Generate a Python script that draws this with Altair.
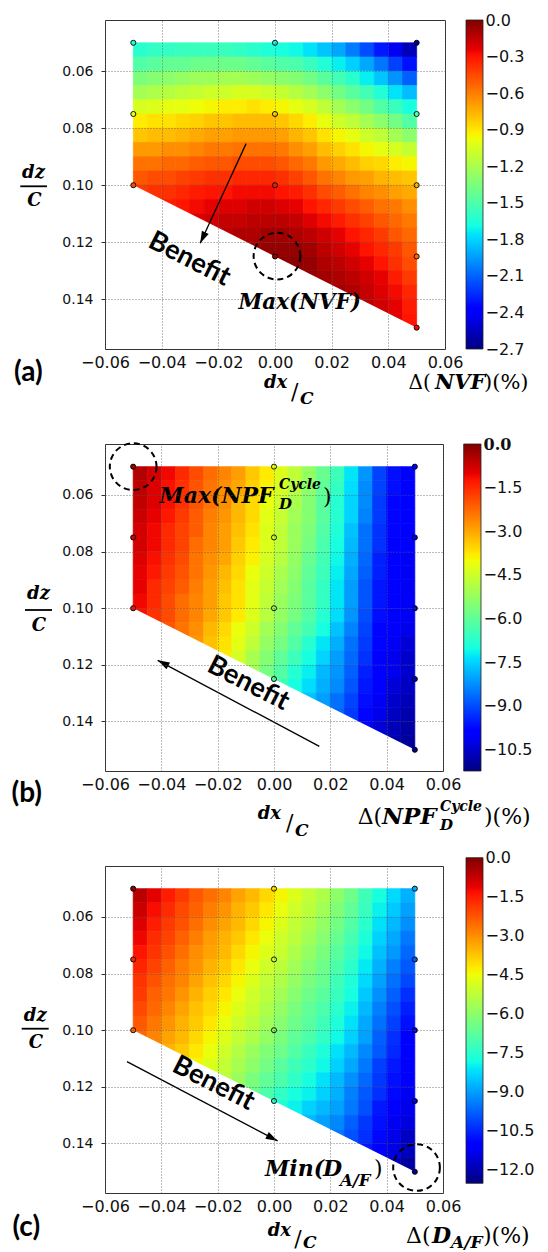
import altair as alt
import pandas as pd

# ---------------- grid of read-off cell values (cell centres, 0.005 spacing) -------------
# rows run from dz/C = 0.05 (top) to 0.15 (bottom); each row is right-aligned:
# lower rows start further right because the sampled region is a trapezoid.
X_START, Y_START, STEP, NCOL = -0.05, 0.05, 0.005, 20

# (a)  Delta(NVF) (%)
A_ROWS = [
    [-1.62, -1.59, -1.59, -1.57, -1.57, -1.57, -1.57, -1.59, -1.62, -1.65, -1.67, -1.70, -1.76, -1.84, -1.92, -2.03, -2.16, -2.30, -2.43, -2.57],
    [-1.49, -1.46, -1.43, -1.43, -1.40, -1.40, -1.40, -1.40, -1.43, -1.46, -1.49, -1.51, -1.57, -1.65, -1.73, -1.81, -1.92, -2.05, -2.19, -2.32],
    [-1.35, -1.32, -1.30, -1.27, -1.24, -1.24, -1.22, -1.22, -1.24, -1.27, -1.30, -1.32, -1.38, -1.46, -1.54, -1.62, -1.73, -1.84, -1.97, -2.11],
    [-1.22, -1.19, -1.16, -1.13, -1.11, -1.08, -1.08, -1.05, -1.05, -1.08, -1.11, -1.16, -1.22, -1.30, -1.38, -1.46, -1.54, -1.65, -1.76, -1.86],
    [-1.05, -1.03, -1.00, -1.00, -0.97, -0.95, -0.92, -0.92, -0.89, -0.92, -0.95, -1.00, -1.05, -1.13, -1.22, -1.30, -1.38, -1.49, -1.57, -1.67],
    [-0.92, -0.89, -0.89, -0.86, -0.84, -0.81, -0.81, -0.78, -0.78, -0.78, -0.81, -0.86, -0.92, -1.00, -1.08, -1.13, -1.22, -1.30, -1.38, -1.49],
    [-0.81, -0.78, -0.78, -0.76, -0.73, -0.70, -0.70, -0.68, -0.68, -0.68, -0.70, -0.76, -0.81, -0.89, -0.95, -1.00, -1.08, -1.13, -1.22, -1.30],
    [-0.68, -0.68, -0.65, -0.65, -0.62, -0.59, -0.59, -0.57, -0.57, -0.57, -0.59, -0.65, -0.70, -0.78, -0.84, -0.89, -0.95, -1.00, -1.05, -1.11],
    [-0.57, -0.57, -0.54, -0.54, -0.51, -0.49, -0.49, -0.46, -0.46, -0.46, -0.49, -0.54, -0.59, -0.68, -0.73, -0.78, -0.84, -0.86, -0.92, -0.95],
    [-0.49, -0.46, -0.46, -0.43, -0.41, -0.38, -0.38, -0.35, -0.35, -0.35, -0.38, -0.43, -0.49, -0.57, -0.62, -0.68, -0.70, -0.76, -0.78, -0.81],
    [-0.41, -0.38, -0.38, -0.35, -0.32, -0.30, -0.30, -0.27, -0.27, -0.27, -0.30, -0.32, -0.38, -0.46, -0.51, -0.57, -0.62, -0.65, -0.70, -0.73],
    [-0.32, -0.30, -0.27, -0.24, -0.22, -0.22, -0.19, -0.19, -0.22, -0.24, -0.30, -0.35, -0.41, -0.46, -0.51, -0.57, -0.59, -0.65],
    [-0.22, -0.19, -0.16, -0.16, -0.14, -0.14, -0.14, -0.16, -0.22, -0.27, -0.32, -0.38, -0.43, -0.49, -0.54, -0.59],
    [-0.14, -0.11, -0.11, -0.08, -0.08, -0.11, -0.14, -0.19, -0.24, -0.30, -0.35, -0.41, -0.49, -0.54],
    [-0.08, -0.05, -0.05, -0.05, -0.08, -0.14, -0.19, -0.24, -0.30, -0.35, -0.41, -0.49],
    [-0.03, -0.03, -0.05, -0.11, -0.14, -0.19, -0.24, -0.30, -0.38, -0.46],
    [-0.05, -0.08, -0.11, -0.14, -0.19, -0.24, -0.32, -0.41],
    [-0.08, -0.11, -0.16, -0.22, -0.27, -0.35],
    [-0.14, -0.19, -0.24, -0.32],
    [-0.22, -0.30],
]

# (b)  Delta(NPF_D^Cycle) (%)
B_ROWS = [
    [-0.5, -0.8, -1.1, -1.5, -1.9, -2.3, -2.6, -2.9, -3.4, -3.8, -4.3, -4.7, -5.3, -5.9, -6.5, -7.3, -8.2, -9.1, -9.7, -10.0],
    [-0.6, -0.9, -1.2, -1.6, -2.0, -2.4, -2.7, -3.0, -3.5, -3.9, -4.4, -4.8, -5.4, -6.0, -6.6, -7.4, -8.3, -9.1, -9.7, -10.0],
    [-0.6, -0.9, -1.2, -1.6, -2.0, -2.4, -2.7, -3.2, -3.6, -4.1, -4.5, -5.0, -5.5, -6.1, -6.8, -7.5, -8.3, -9.2, -9.8, -10.0],
    [-0.7, -1.0, -1.3, -1.7, -2.1, -2.5, -2.8, -3.2, -3.6, -4.2, -4.6, -5.1, -5.5, -6.1, -6.8, -7.5, -8.4, -9.2, -9.8, -10.0],
    [-0.8, -1.1, -1.5, -1.8, -2.1, -2.6, -2.9, -3.3, -3.7, -4.3, -4.7, -5.2, -5.6, -6.2, -6.9, -7.7, -8.6, -9.3, -9.8, -10.0],
    [-0.8, -1.1, -1.5, -1.8, -2.3, -2.6, -2.9, -3.4, -3.8, -4.3, -4.7, -5.2, -5.7, -6.3, -7.0, -7.8, -8.6, -9.3, -9.9, -10.0],
    [-0.9, -1.2, -1.6, -1.9, -2.4, -2.7, -3.0, -3.5, -3.9, -4.4, -4.8, -5.3, -5.9, -6.4, -7.1, -7.9, -8.7, -9.5, -9.9, -10.1],
    [-1.0, -1.3, -1.7, -2.0, -2.4, -2.8, -3.2, -3.6, -4.1, -4.5, -5.0, -5.4, -6.0, -6.5, -7.2, -8.0, -8.8, -9.5, -9.9, -10.1],
    [-1.0, -1.5, -1.8, -2.1, -2.5, -2.9, -3.3, -3.7, -4.2, -4.6, -5.1, -5.5, -6.1, -6.6, -7.3, -8.1, -8.9, -9.6, -10.0, -10.1],
    [-1.1, -1.5, -1.9, -2.3, -2.6, -2.9, -3.4, -3.7, -4.2, -4.7, -5.2, -5.6, -6.1, -6.6, -7.3, -8.1, -8.9, -9.6, -10.0, -10.1],
    [-1.2, -1.6, -1.9, -2.3, -2.6, -3.0, -3.4, -3.8, -4.3, -4.8, -5.3, -5.7, -6.2, -6.8, -7.4, -8.2, -9.0, -9.7, -10.0, -10.1],
    [-2.0, -2.4, -2.7, -3.2, -3.6, -4.1, -4.5, -5.1, -5.5, -6.0, -6.4, -7.0, -7.7, -8.4, -9.1, -9.8, -10.0, -10.2],
    [-2.8, -3.3, -3.7, -4.2, -4.7, -5.3, -5.7, -6.2, -6.8, -7.3, -7.9, -8.6, -9.2, -9.8, -10.1, -10.4],
    [-3.8, -4.4, -5.0, -5.5, -6.0, -6.5, -7.0, -7.5, -8.1, -8.7, -9.3, -9.9, -10.2, -10.5],
    [-5.1, -5.7, -6.2, -6.8, -7.2, -7.8, -8.2, -8.8, -9.5, -9.9, -10.2, -10.5],
    [-6.4, -7.0, -7.4, -7.9, -8.3, -8.9, -9.6, -10.0, -10.4, -10.6],
    [-7.7, -8.1, -8.6, -9.1, -9.7, -10.1, -10.5, -10.7],
    [-8.7, -9.2, -9.8, -10.2, -10.6, -10.8],
    [-9.9, -10.4, -10.7, -10.9],
    [-10.8, -11.0],
]

# (c)  Delta(D_A/F) (%)
C_ROWS = [
    [-0.6, -1.1, -1.5, -1.9, -2.3, -2.6, -2.9, -3.3, -3.6, -4.0, -4.4, -4.8, -5.2, -5.5, -6.0, -6.5, -7.2, -7.8, -8.3, -8.8],
    [-0.8, -1.3, -1.7, -2.1, -2.4, -2.8, -3.1, -3.5, -3.8, -4.2, -4.6, -5.0, -5.3, -5.7, -6.2, -6.7, -7.3, -8.0, -8.5, -9.0],
    [-1.0, -1.5, -1.9, -2.2, -2.6, -3.0, -3.3, -3.6, -4.0, -4.4, -4.8, -5.2, -5.5, -5.9, -6.4, -6.9, -7.5, -8.2, -8.7, -9.2],
    [-1.2, -1.7, -2.0, -2.4, -2.8, -3.2, -3.5, -3.8, -4.2, -4.6, -5.0, -5.3, -5.7, -6.1, -6.6, -7.1, -7.7, -8.4, -8.9, -9.5],
    [-1.4, -1.8, -2.2, -2.6, -3.0, -3.3, -3.6, -4.0, -4.4, -4.8, -5.1, -5.5, -5.9, -6.3, -6.8, -7.3, -7.9, -8.6, -9.1, -9.7],
    [-1.6, -2.0, -2.4, -2.8, -3.1, -3.5, -3.8, -4.2, -4.6, -5.0, -5.3, -5.7, -6.1, -6.5, -7.0, -7.5, -8.1, -8.8, -9.4, -9.9],
    [-1.8, -2.2, -2.6, -2.9, -3.3, -3.7, -4.0, -4.4, -4.8, -5.2, -5.5, -5.9, -6.3, -6.6, -7.2, -7.7, -8.3, -9.0, -9.6, -10.1],
    [-1.9, -2.4, -2.7, -3.1, -3.5, -3.9, -4.2, -4.6, -5.0, -5.3, -5.7, -6.1, -6.5, -6.8, -7.3, -7.8, -8.5, -9.2, -9.8, -10.4],
    [-2.1, -2.5, -2.9, -3.3, -3.7, -4.0, -4.4, -4.8, -5.1, -5.5, -5.9, -6.3, -6.7, -7.0, -7.5, -8.0, -8.7, -9.4, -10.0, -10.6],
    [-2.3, -2.7, -3.1, -3.5, -3.8, -4.2, -4.6, -5.0, -5.3, -5.7, -6.1, -6.5, -6.8, -7.2, -7.7, -8.2, -8.9, -9.6, -10.2, -10.8],
    [-2.5, -2.9, -3.3, -3.6, -4.0, -4.4, -4.8, -5.2, -5.5, -5.9, -6.3, -6.7, -7.0, -7.4, -7.9, -8.4, -9.0, -9.8, -10.4, -11.0],
    [-3.5, -3.8, -4.2, -4.6, -5.0, -5.4, -5.8, -6.2, -6.5, -6.9, -7.3, -7.7, -8.2, -8.7, -9.3, -9.9, -10.5, -11.1],
    [-4.4, -4.8, -5.2, -5.6, -6.0, -6.4, -6.8, -7.2, -7.5, -7.9, -8.4, -8.9, -9.5, -10.2, -10.7, -11.2],
    [-5.3, -5.8, -6.3, -6.7, -7.0, -7.4, -7.8, -8.2, -8.7, -9.2, -9.7, -10.3, -10.8, -11.2],
    [-6.5, -7.0, -7.4, -7.8, -8.0, -8.4, -8.8, -9.4, -9.9, -10.4, -10.9, -11.3],
    [-7.7, -8.0, -8.4, -8.7, -9.0, -9.5, -10.0, -10.7, -11.0, -11.4],
    [-8.7, -9.0, -9.3, -9.8, -10.3, -10.8, -11.3, -11.5],
    [-9.5, -10.0, -10.4, -10.9, -11.4, -11.8],
    [-10.7, -11.2, -11.5, -11.9],
    [-11.8, -12.2],
]

# sampled design points (the small circles) and their read values
PT_X = [-0.05, -0.05, -0.05, 0.0, 0.0, 0.0, 0.0, 0.05, 0.05, 0.05, 0.05, 0.05]
PT_Y = [0.05, 0.075, 0.10, 0.05, 0.075, 0.10, 0.125, 0.05, 0.075, 0.10, 0.125, 0.15]
A_PTS = [-1.65, -1.00, -0.46, -1.70, -0.84, -0.30, -0.03, -2.65, -1.49, -0.76, -0.54, -0.27]
B_PTS = [-0.2, -0.8, -1.2, -4.1, -4.5, -5.1, -6.1, -10.0, -10.1, -10.1, -10.5, -11.1]
C_PTS = [-0.2, -1.6, -2.5, -4.1, -5.0, -6.0, -7.5, -8.9, -9.9, -11.0, -11.3, -12.4]

# colour-bar ranges and ticks
A_VMIN, B_VMIN, C_VMIN = -2.7, -11.25, -12.55
A_TICKS = [0.0, -0.3, -0.6, -0.9, -1.2, -1.5, -1.8, -2.1, -2.4, -2.7]
B_TICKS = [0.0, -1.5, -3.0, -4.5, -6.0, -7.5, -9.0, -10.5]
C_TICKS = [0.0, -1.5, -3.0, -4.5, -6.0, -7.5, -9.0, -10.5, -12.0]

X_TICKS = [-0.06, -0.04, -0.02, 0.0, 0.02, 0.04, 0.06]
Y_TICKS = [0.06, 0.08, 0.10, 0.12, 0.14]
X_DOMAIN = [-0.06, 0.06]
Y_DOMAIN = [0.042, 0.1575]
# white mask under the lower edge of the sampled region (edge runs (-0.05,0.10)->(0.05,0.15))
MASK_X = [-0.0506, 0.0506]
MASK_Y = [0.0997, 0.1503]
MASK_Y2 = [0.1512, 0.1512]

# jet colormap
JET_POS = [0.0, 0.11, 0.125, 0.34, 0.35, 0.375, 0.64, 0.65, 0.66, 0.89, 0.91, 1.0]
JET_COL = ["#000080", "#0000ff", "#0000ff", "#00dbff", "#00e5f7", "#15ffe2",
           "#eeff08", "#f7f500", "#ffec00", "#ff1300", "#e80000", "#800000"]

SANS = "DejaVu Sans"
SERIF = "DejaVu Serif"
LAB = "Lato"
BI = ("italic", "bold")
RG = ("normal", "normal")
LB = ("normal", "bold")

# annotation layout (pixels relative to each plot's top-left)
A_TEXT = [
    ("(a)", -91, 361, 28, LAB, LB, "left"),
    ("dz", -71.5, 157.7, 18, SERIF, BI, "center"),
    ("C", -70.7, 186, 18, SERIF, BI, "center"),
    ("dx", 159, 367.7, 18, SERIF, BI, "left"),
    ("/", 186, 379, 22, SERIF, RG, "left"),
    ("C", 195, 384, 17, SERIF, BI, "left"),
    ("\u0394(", 303.5, 369.3, 20, SERIF, RG, "left"),
    ("NVF", 330, 369.3, 21, SERIF, BI, "left"),
    (")(%)", 379, 369.3, 21, SERIF, RG, "left"),
    ("Max(NVF)", 133.5, 289.3, 21.5, SERIF, BI, "left"),
]
B_TEXT = [
    ("(b)", -93.5, 357.7, 28, LAB, LB, "left"),
    ("dz", -66.5, 155.3, 18, SERIF, BI, "center"),
    ("C", -66, 187, 18, SERIF, BI, "center"),
    ("dx", 152.7, 375.3, 18, SERIF, BI, "left"),
    ("/", 181, 386, 22, SERIF, RG, "left"),
    ("C", 190, 392, 17, SERIF, BI, "left"),
    ("\u0394(", 252.7, 379.7, 22, SERIF, RG, "left"),
    ("NPF", 277, 379.7, 23, SERIF, BI, "left"),
    ("Cycle", 335, 367, 14, SERIF, BI, "left"),
    ("D", 335, 386, 15, SERIF, BI, "left"),
    (")(%)", 379, 379.7, 22, SERIF, RG, "left"),
    ("Max(NPF", 54.3, 58.7, 22, SERIF, BI, "left"),
    ("Cycle", 174, 45, 14, SERIF, BI, "left"),
    ("D", 174, 64.5, 15, SERIF, BI, "left"),
    (")", 218, 60, 22, SERIF, RG, "left"),
]
C_TEXT = [
    ("(c)", -92.5, 370, 28, LAB, LB, "left"),
    ("dz", -69.8, 155, 18, SERIF, BI, "center"),
    ("C", -69, 182, 18, SERIF, BI, "center"),
    ("dx", 162.7, 369.5, 18, SERIF, BI, "left"),
    ("/", 189.3, 380, 22, SERIF, RG, "left"),
    ("C", 198, 382, 17, SERIF, BI, "left"),
    ("\u0394(", 301, 376.7, 22, SERIF, RG, "left"),
    ("D", 327, 376.7, 22, SERIF, BI, "left"),
    ("A/F", 346, 382, 17, SERIF, BI, "left"),
    (")(%)", 378, 376.7, 22, SERIF, RG, "left"),
    ("Min(", 160, 310, 22, SERIF, BI, "left"),
    ("D", 218, 310, 22, SERIF, BI, "left"),
    ("A/F", 235, 320, 16.5, SERIF, BI, "left"),
    (")", 269, 310, 22, SERIF, RG, "left"),
]

A_ANN = dict(bar=(-84.7, -58, 166.3), circle=(0.0007, 0.1249),
             arrow=(-0.0102, 0.0854, -0.0264, 0.1204, 205), benefit=(-0.0302, 0.126))
B_ANN = dict(bar=(-80, -53, 166), circle=(-0.05, 0.05),
             arrow=(0.0161, 0.1488, -0.0413, 0.1184, 298), benefit=(-0.0091, 0.1266))
C_ANN = dict(bar=(-83.3, -56.3, 162.7), circle=(0.0506, 0.1485),
             arrow=(-0.0522, 0.1111, 0.0013, 0.1391, 117.6), benefit=(-0.0215, 0.1188))

ONE = pd.DataFrame({"k": [0]})


def cell_frame(rows):
    recs = []
    for j, row in enumerate(rows):
        start = NCOL - len(row)
        for k, v in enumerate(row):
            i = start + k
            recs.append({"x": X_START + STEP * i, "x2": X_START + STEP * (i + 1),
                         "y": Y_START + STEP * j, "y2": Y_START + STEP * (j + 1), "v": v})
    return pd.DataFrame(recs)


def panel(rows, pts, vmin, cb_ticks, texts, ann, W, H, cbx, cbw, cbt, cbb, bold_zero=False):
    xs = alt.Scale(domain=X_DOMAIN, nice=False, zero=False)
    ys = alt.Scale(domain=Y_DOMAIN, reverse=True, nice=False, zero=False)
    cs = alt.Scale(domain=[vmin * (1 - p) for p in JET_POS], range=JET_COL, interpolate="rgb")
    grid = dict(grid=True, gridColor="#555", gridDash=[1, 2], gridWidth=0.8, domain=False,
                title=None, labelFont=SANS, labelColor="#111", zindex=1, labelOverlap=False,
                labelFlush=False, format=".2f")
    xax = alt.Axis(values=X_TICKS, ticks=False, labelFontSize=16, labelPadding=5, **grid)
    yax = alt.Axis(values=Y_TICKS, ticks=True, tickSize=4, tickColor="#333",
                   labelFontSize=14, labelPadding=8, **grid)
    X = lambda f: alt.X(f, scale=xs, axis=xax)
    Y = lambda f: alt.Y(f, scale=ys, axis=yax)

    cells = alt.Chart(cell_frame(rows)).mark_rect(strokeWidth=0.7).encode(
        x=X("x:Q"), x2="x2:Q", y=Y("y:Q"), y2="y2:Q",
        fill=alt.Fill("v:Q", scale=cs, legend=None),
        stroke=alt.Stroke("v:Q", scale=cs, legend=None))
    mask = alt.Chart(pd.DataFrame({"x": MASK_X, "y": MASK_Y, "y2": MASK_Y2})).mark_area(
        color="white", orient="vertical", opacity=1).encode(x=X("x:Q"), y=Y("y:Q"), y2="y2:Q")
    dots = alt.Chart(pd.DataFrame({"x": PT_X, "y": PT_Y, "v": pts})).mark_circle(
        size=26, stroke="black", strokeWidth=0.9, opacity=1).encode(
        x=X("x:Q"), y=Y("y:Q"), fill=alt.Fill("v:Q", scale=cs, legend=None))
    cx, cy = ann["circle"]
    circ = alt.Chart(pd.DataFrame({"x": [cx], "y": [cy]})).mark_point(
        shape="circle", size=2180, filled=False, stroke="black", color="black",
        strokeWidth=2, strokeDash=[6, 4], opacity=1).encode(x=X("x:Q"), y=Y("y:Q"))
    ax0, ay0, ax1, ay1, ang = ann["arrow"]
    arrow = alt.Chart(pd.DataFrame({"x": [ax0], "y": [ay0], "x2": [ax1], "y2": [ay1]})).mark_rule(
        color="black", strokeWidth=1.3).encode(x=X("x:Q"), y=Y("y:Q"), x2="x2:Q", y2="y2:Q")
    head = alt.Chart(pd.DataFrame({"x": [ax1], "y": [ay1]})).mark_point(
        shape="M0,0L-0.5,1.6L0.5,1.6Z", size=225, filled=True, color="black", opacity=1,
        angle=ang).encode(x=X("x:Q"), y=Y("y:Q"))
    bx, by = ann["benefit"]
    benefit = alt.Chart(pd.DataFrame({"x": [bx], "y": [by]})).mark_text(
        text="Benefit", font=LAB, fontSize=27, fontWeight="bold", angle=27,
        align="center", baseline="middle", color="black").encode(x=X("x:Q"), y=Y("y:Q"))
    b0, b1, by0 = ann["bar"]
    fbar = alt.Chart(ONE).mark_rule(color="black", strokeWidth=1.8).encode(
        x=alt.value(b0), x2=alt.value(b1), y=alt.value(by0))

    layers = [cells, mask, dots, circ, arrow, head, benefit, fbar]
    for (s, px, py, size, font, (style, weight), align) in texts:
        layers.append(alt.Chart(ONE).mark_text(
            text=s, font=font, fontSize=size, fontStyle=style, fontWeight=weight,
            align=align, baseline="alphabetic", color="black").encode(
            x=alt.value(px), y=alt.value(py)))
    main = alt.layer(*layers)

    grad = alt.LinearGradient(
        gradient="linear", x1=0, x2=0, y1=1, y2=0,
        stops=[alt.GradientStop(color=c, offset=p) for p, c in zip(JET_POS, JET_COL)])
    if bold_zero:
        extra = dict(
            labelFontWeight={"condition": {"test": "datum.value == 0", "value": "bold"}, "value": "normal"},
            labelFont={"condition": {"test": "datum.value == 0", "value": SERIF}, "value": SANS})
    else:
        extra = dict(labelFont=SANS)
    cbax = alt.Axis(orient="right", offset=cbx + cbw, values=cb_ticks, format=".1f", title=None,
                    domain=False, ticks=False, grid=False, labelPadding=2, labelFontSize=16,
                    labelColor="#111", labelOverlap=False, labelFlush=False, **extra)
    cbar = alt.Chart(pd.DataFrame({"lo": [vmin], "hi": [0.0]})).mark_rect(
        fill=grad, stroke="#222", strokeWidth=0.8).encode(
        x=alt.value(W + cbx), x2=alt.value(W + cbx + cbw),
        y=alt.Y("lo:Q", scale=alt.Scale(domain=[vmin, 0.0], range=[H + cbb, cbt], nice=False, zero=False),
                axis=cbax),
        y2="hi:Q")
    return alt.layer(main, cbar).resolve_scale(y="independent").properties(width=W, height=H)


pa = panel(A_ROWS, A_PTS, A_VMIN, A_TICKS, A_TEXT, A_ANN, 340, 329, 21, 17, 0, 0)
pb = panel(B_ROWS, B_PTS, B_VMIN, B_TICKS, B_TEXT, B_ANN, 338, 327, 20.7, 17.3, 0, 0, bold_zero=True)
pc = panel(C_ROWS, C_PTS, C_VMIN, C_TICKS, C_TEXT, C_ANN, 338, 327, 23, 17, -8.3, -9.7)

chart = alt.vconcat(pa, pb, pc, spacing=95, bounds="flush").resolve_scale(
    fill="independent", stroke="independent"
).properties(
    padding={"left": 3, "top": 3, "right": 2, "bottom": 2}
).configure_view(stroke="#333", strokeWidth=1)

chart.save("out.html", embed_options={"renderer": "svg", "actions": False})
